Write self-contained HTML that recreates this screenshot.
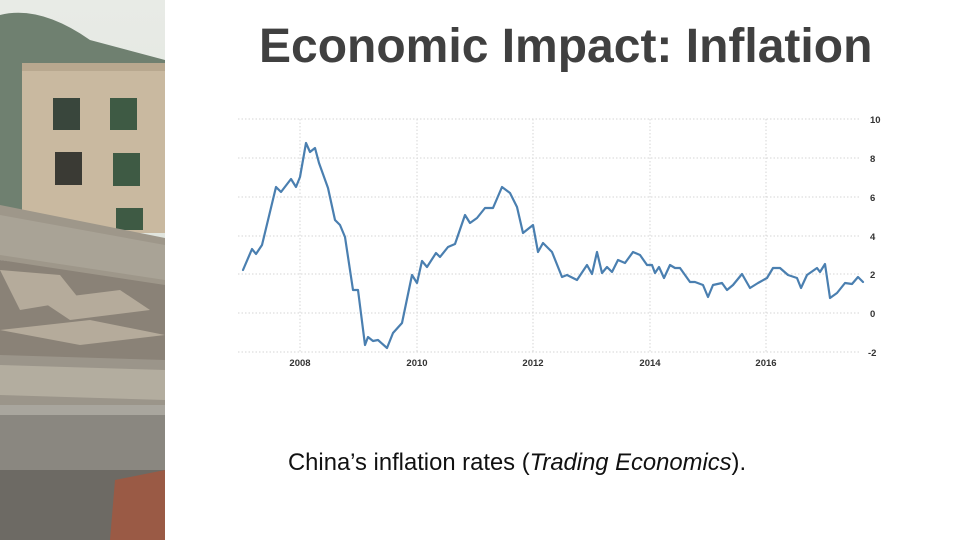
<!DOCTYPE html>
<html><head><meta charset="utf-8"><style>
body{margin:0;width:960px;height:540px;background:#fff;position:relative;overflow:hidden;font-family:"Liberation Sans",sans-serif}
.t{position:absolute;left:259px;top:19px;font-size:48px;font-weight:bold;color:#404040;white-space:nowrap}
.c{position:absolute;left:288px;top:449px;font-size:23.8px;color:#111;white-space:nowrap}
</style></head><body>
<svg width="165" height="540" style="position:absolute;left:0;top:0">
<defs><linearGradient id="sky" x1="0" y1="0" x2="0" y2="1"><stop offset="0" stop-color="#e8ebe6"/><stop offset="1" stop-color="#d8ddd4"/></linearGradient></defs>
<rect width="165" height="540" fill="url(#sky)"/>
<path d="M0 15 Q40 5 90 40 L165 60 L165 220 L0 220Z" fill="#6f8070"/>
<rect x="22" y="63" width="143" height="170" fill="#c9b9a0"/>
<rect x="22" y="63" width="143" height="8" fill="#b8a88f"/>
<rect x="53" y="98" width="27" height="32" fill="#39463c"/><rect x="110" y="98" width="27" height="32" fill="#3e5a44"/>
<rect x="55" y="152" width="27" height="33" fill="#3a3a34"/><rect x="113" y="153" width="27" height="33" fill="#3e5a44"/>
<rect x="116" y="208" width="27" height="22" fill="#3e5a44"/>
<path d="M0 205 L165 238 L165 290 L0 260Z" fill="#9e978a"/>
<path d="M0 215 L165 245 L165 280 L0 255Z" fill="#a9a396"/>
<path d="M0 260 L165 285 L165 360 L0 360Z" fill="#8a8277"/>
<path d="M0 270 L60 275 L80 300 L20 310Z M40 300 L120 290 L150 310 L70 320Z M0 330 L90 320 L165 335 L80 345Z" fill="#b5ab9b"/>
<path d="M0 355 L165 360 L165 420 L0 410Z" fill="#9b958a"/>
<path d="M0 365 L165 370 L165 400 L0 395Z" fill="#b3ad9f"/>
<rect x="0" y="405" width="165" height="135" fill="#8a8780"/>
<rect x="0" y="405" width="165" height="10" fill="#a9a69e"/>
<rect x="0" y="470" width="165" height="70" fill="#6d6a64"/>
<path d="M115 480 L165 470 L165 540 L110 540Z" fill="#9a5a45"/>
</svg>
<div class="t">Economic Impact: Inflation</div>
<svg width="960" height="540" style="position:absolute;left:0;top:0">
<g stroke="#d6d6d6" stroke-dasharray="1.5,2" stroke-width="1">
<line x1="238" y1="119" x2="860" y2="119"/><line x1="238" y1="158" x2="860" y2="158"/><line x1="238" y1="197" x2="860" y2="197"/><line x1="238" y1="236" x2="860" y2="236"/><line x1="238" y1="274" x2="860" y2="274"/><line x1="238" y1="313" x2="860" y2="313"/><line x1="238" y1="352" x2="860" y2="352"/>
<line x1="300" y1="119" x2="300" y2="352"/><line x1="417" y1="119" x2="417" y2="352"/><line x1="533" y1="119" x2="533" y2="352"/><line x1="650" y1="119" x2="650" y2="352"/><line x1="766" y1="119" x2="766" y2="352"/>
</g>
<g font-family="Liberation Sans,sans-serif" font-size="9.5" font-weight="bold" fill="#333">
<text x="870" y="123">10</text><text x="870" y="162">8</text><text x="870" y="201">6</text><text x="870" y="240">4</text><text x="870" y="278">2</text><text x="870" y="317">0</text><text x="868" y="356">-2</text>
<g text-anchor="middle"><text x="300" y="366">2008</text><text x="417" y="366">2010</text><text x="533" y="366">2012</text><text x="650" y="366">2014</text><text x="766" y="366">2016</text></g>
</g>
<polyline fill="none" stroke="#4a7fb0" stroke-width="2.2" stroke-linejoin="round" stroke-linecap="round" points="243,270 252,249 256,254 262,245 276,187 281,192 291,179 296,187 300,177 306,143 310,152 315,148 319,163 328,188 335,220 340,225 345,237 353,290 358,290 365,345 368,337 373,341 378,340 387,348 393,333 402,323 412,275 417,283 422,261 427,267 436,253 440,257 448,247 455,244 465,215 470,223 477,218 485,208 493,208 502,187 510,193 517,207 523,233 533,225 538,252 543,243 552,252 562,277 567,275 577,280 587,265 592,274 597,252 602,273 607,267 612,272 618,260 625,263 633,252 640,255 647,265 652,265 655,273 659,267 664,278 670,265 675,268 680,268 690,282 695,282 703,285 708,297 713,285 722,283 727,290 733,285 742,274 750,288 758,283 767,278 773,268 780,268 788,275 797,278 801,288 807,275 817,268 820,272 825,264 830,298 837,293 845,283 852,284 858,277 863,282"/>
</svg>
<div class="c">China’s inflation rates (<i>Trading Economics</i>).</div>
</body></html>
